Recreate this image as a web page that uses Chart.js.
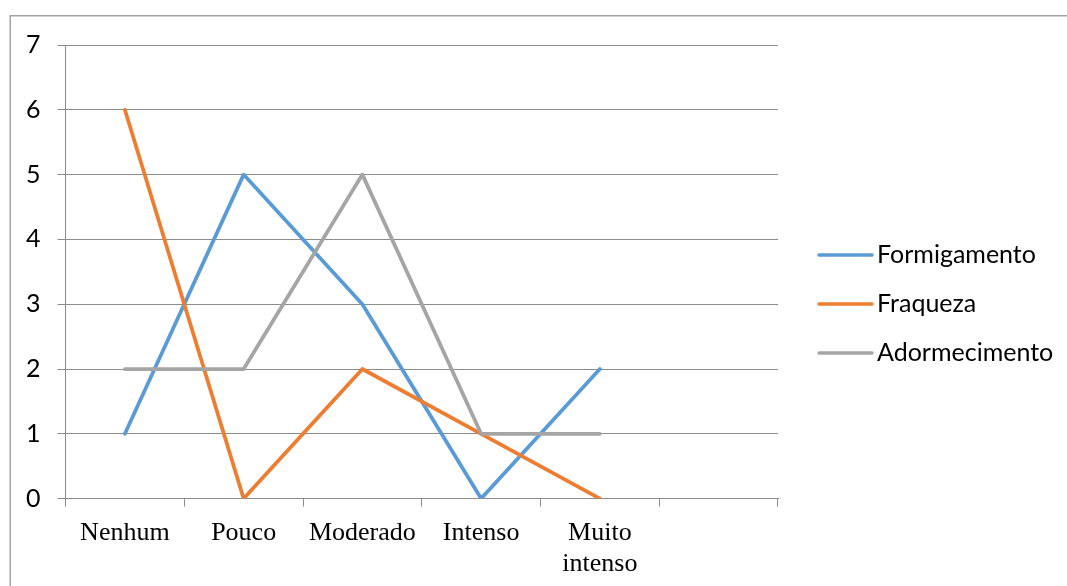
<!DOCTYPE html>
<html>
<head>
<meta charset="utf-8">
<script src="https://cdn.jsdelivr.net/npm/chart.js@4.4.1/dist/chart.umd.min.js"></script>
<style>
  html, body { margin: 0; padding: 0; background: #fff; overflow: hidden; }
  canvas { display: block; }
</style>
</head>
<body>
<canvas id="chart" width="1067" height="586"></canvas>
<script>
// Categories on the x axis (the last slot is left empty)
const categories = ['Nenhum', 'Pouco', 'Moderado', 'Intenso', ['Muito', 'intenso'], ''];

// Series values
const formigamento = [1, 5, 3, 0, 2];
const fraqueza = [6, 0, 2, 1, 0];
const adormecimento = [2, 2, 5, 1, 1];

const seriesNames = ['Formigamento', 'Fraqueza', 'Adormecimento'];
const seriesColors = ['#5B9BD5', '#ED7D31', '#A5A5A5'];

// Value axis range
const yMin = 0;
const yMax = 7;
const yStep = 1;

const axisGray = '#8c8c8c';
const sansFont = 'Lato, "Open Sans", sans-serif';
const serifFont = '"Liberation Serif", "Times New Roman", serif';

// Outer frame around the whole chart
const framePlugin = {
  id: 'frame',
  beforeDraw(chart) {
    const ctx = chart.ctx;
    ctx.save();
    ctx.strokeStyle = '#a3a3a3';
    ctx.lineWidth = 1.5;
    ctx.strokeRect(10.25, 15.75, 1300, 1300);
    ctx.restore();
  }
};

// Legend on the right: short line sample followed by the series name
const sideLegendPlugin = {
  id: 'sideLegend',
  afterDraw(chart) {
    const ctx = chart.ctx;
    ctx.save();
    ctx.font = '25px ' + sansFont;
    ctx.textBaseline = 'middle';
    ctx.textAlign = 'left';
    chart.data.datasets.forEach((ds, i) => {
      const y = 255 + i * 49;
      ctx.strokeStyle = ds.borderColor;
      ctx.lineWidth = 3.5;
      ctx.lineCap = 'round';
      ctx.beginPath();
      ctx.moveTo(819, y);
      ctx.lineTo(872, y);
      ctx.stroke();
      ctx.fillStyle = '#000';
      ctx.fillText(ds.label, 877, y);
    });
    ctx.restore();
  }
};

const seriesData = [formigamento, fraqueza, adormecimento];
// later series are painted over earlier ones
const datasets = seriesNames.map((name, i) => ({
  label: name,
  data: seriesData[i],
  borderColor: seriesColors[i],
  backgroundColor: seriesColors[i],
  borderWidth: 3.75,
  borderCapStyle: 'round',
  borderJoinStyle: 'round',
  pointRadius: 0,
  pointHoverRadius: 0,
  tension: 0,
  fill: false,
  order: seriesNames.length - 1 - i
}));

new Chart(document.getElementById('chart'), {
  type: 'line',
  data: { labels: categories, datasets },
  options: {
    responsive: false,
    animation: false,
    events: [],
    layout: { padding: { left: 9, right: 289, top: 45, bottom: -5 } },
    plugins: {
      legend: { display: false },
      tooltip: { enabled: false }
    },
    scales: {
      x: {
        type: 'category',
        offset: true,
        grid: {
          offset: true,
          drawOnChartArea: false,
          drawTicks: true,
          tickLength: 8,
          color: axisGray,
          lineWidth: 1
        },
        border: { display: true, color: axisGray, width: 1 },
        ticks: {
          color: '#000',
          padding: 11,
          maxRotation: 0,
          autoSkip: false,
          font: { family: serifFont, size: 26, lineHeight: 1.2 }
        }
      },
      y: {
        min: yMin,
        max: yMax,
        grid: {
          color: axisGray,
          lineWidth: 1,
          tickLength: 8,
          drawTicks: true
        },
        border: { display: true, color: axisGray, width: 1 },
        ticks: {
          stepSize: yStep,
          color: '#000',
          padding: 17,
          font: { family: sansFont, size: 25 }
        }
      }
    }
  },
  plugins: [framePlugin, sideLegendPlugin]
});
</script>
</body>
</html>
